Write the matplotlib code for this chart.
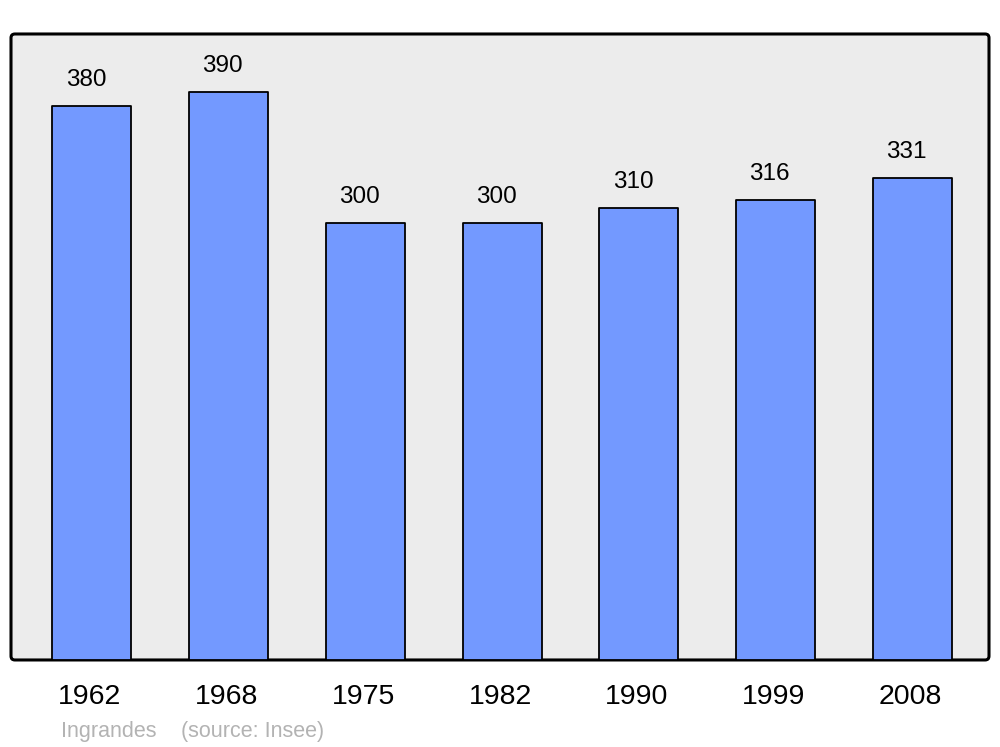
import matplotlib
matplotlib.use("Agg")
import matplotlib.pyplot as plt
import matplotlib.transforms as mtransforms
from matplotlib.patches import FancyBboxPatch

plt.rcParams['font.family'] = ['Liberation Sans', 'DejaVu Sans']

# data
years = ['1962', '1968', '1975', '1982', '1990', '1999', '2008']
population = [380, 390, 300, 300, 310, 316, 331]
town = 'Ingrandes'
source = '(source: Insee)'

fig = plt.figure(figsize=(10, 7.47), dpi=100)
ax = fig.add_axes([0.011, 0.1165, 0.978, 0.838])
ax.set_facecolor('none')

# rounded frame
frame = FancyBboxPatch((0, 0), 1, 1, boxstyle='round,pad=0,rounding_size=0.004',
                       mutation_aspect=978 / 626, transform=ax.transAxes,
                       facecolor='#ececec', edgecolor='black', linewidth=2.2,
                       zorder=0, clip_on=False)
ax.add_patch(frame)
for s in ax.spines.values():
    s.set_visible(False)

x = range(len(years))
bars = ax.bar(x, population, width=0.578, color='#7399ff', edgecolor='black',
              linewidth=1.3, zorder=2)
for b in bars:
    b.set_joinstyle('round')

for xi, v in zip(x, population):
    ax.annotate(str(v), (xi, v), xytext=(-6, 15), textcoords='offset pixels',
                ha='center', va='bottom', fontsize=17.5)

ax.set_xlim(-0.592, 6.56)
ax.set_ylim(0, 429.6)
ax.set_yticks([])
ax.set_xticks(list(x))
ax.set_xticklabels(years, fontsize=20.5)
ax.tick_params(axis='x', length=0, pad=17)
shift = mtransforms.ScaledTranslation(-2 / 100, 0, fig.dpi_scale_trans)
for lbl in ax.get_xticklabels():
    lbl.set_transform(lbl.get_transform() + shift)

fig.text(0.061, 0.0135, town, color='#b3b3b3', fontsize=15.5, ha='left', va='baseline')
fig.text(0.181, 0.0135, source, color='#b3b3b3', fontsize=15.5, ha='left', va='baseline')

fig.savefig('out.png', dpi=100)
